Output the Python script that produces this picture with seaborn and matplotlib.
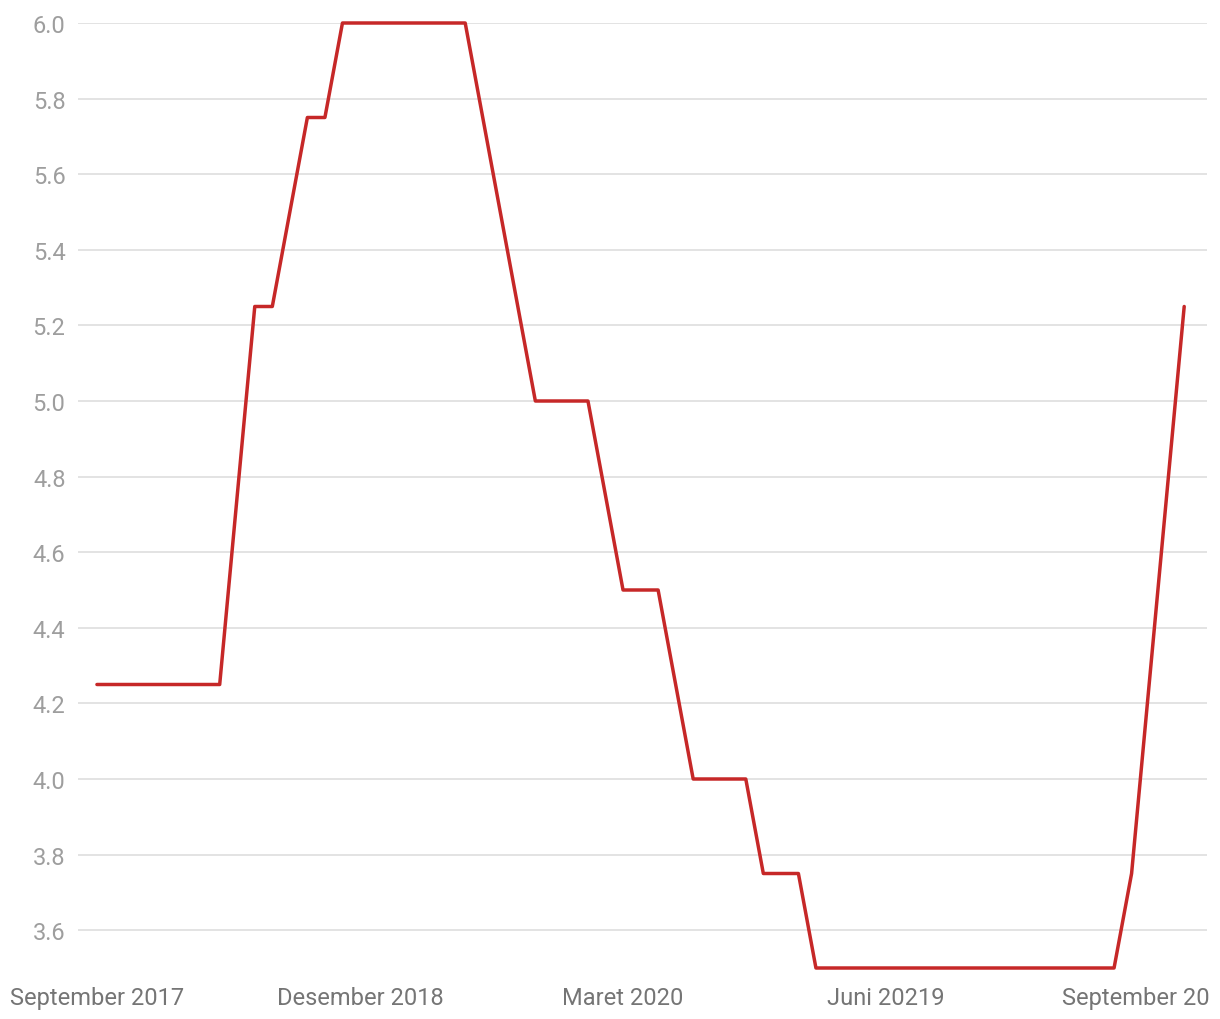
import matplotlib
matplotlib.use("Agg")
import matplotlib.pyplot as plt
import matplotlib.transforms as mtransforms
import seaborn as sns
import pandas as pd
import numpy as np

# Monthly rate, September 2017 .. November 2022
rates = (
    [4.25] * 8 +                      # Sep 2017 - Apr 2018
    [4.75, 5.25, 5.25, 5.50, 5.75, 5.75] +  # May - Oct 2018
    [6.00] * 8 +                      # Nov 2018 - Jun 2019
    [5.75, 5.50, 5.25] +              # Jul - Sep 2019
    [5.00] * 4 +                      # Oct 2019 - Jan 2020
    [4.75, 4.50, 4.50, 4.50, 4.25] +  # Feb - Jun 2020
    [4.00] * 4 +                      # Jul - Oct 2020
    [3.75] * 3 +                      # Nov 2020 - Jan 2021
    [3.50] * 18 +                     # Feb 2021 - Jul 2022
    [3.75, 4.25, 4.75, 5.25]          # Aug - Nov 2022
)
tick_positions = [0, 15, 30, 45, 60]
tick_labels = ["September 2017", "Desember 2018", "Maret 2020", "Juni 20219", "September 2022"]
y_ticks = [3.6, 3.8, 4.0, 4.2, 4.4, 4.6, 4.8, 5.0, 5.2, 5.4, 5.6, 5.8, 6.0]

df = pd.DataFrame({"idx": np.arange(len(rates)), "rate": rates})

sns.set_theme(style="white")
plt.rcParams["font.family"] = ["Roboto", "DejaVu Sans"]

fig = plt.figure(figsize=(12.2, 10.2), dpi=100)
ax = fig.add_axes([78 / 1220, 51 / 1020, (1207 - 78) / 1220, (969 - 24) / 1020])

sns.lineplot(data=df, x="idx", y="rate", ax=ax, color="#c62828", linewidth=2.5,
             clip_on=False, zorder=3)

ax.set_xlim(-1.08, 63.3)
ax.set_ylim(3.5, 6.0)
ax.set_yticks(y_ticks)
ax.set_yticklabels([f"{v:.1f}" for v in y_ticks])
ax.set_xticks(tick_positions)
ax.set_xticklabels(tick_labels)
ax.grid(axis="y", color="#e0e0e0", linewidth=1.3)
ax.grid(axis="x", visible=False)
for s in ax.spines.values():
    s.set_visible(False)
ax.tick_params(axis="y", length=0, pad=9, labelsize=17, labelcolor="#9e9e9e")
ax.tick_params(axis="x", length=0, pad=13, labelsize=17, labelcolor="#757575")
ax.set_xlabel("")
ax.set_ylabel("")

# the last label is cut at the right edge, as in the original
clip = mtransforms.TransformedBbox(mtransforms.Bbox([[0, 0], [1210, 1020]]),
                                   mtransforms.IdentityTransform())
for lbl in ax.get_xticklabels():
    lbl.set_clip_box(clip)
    lbl.set_clip_on(True)

fig.savefig("out.png", dpi=100)
